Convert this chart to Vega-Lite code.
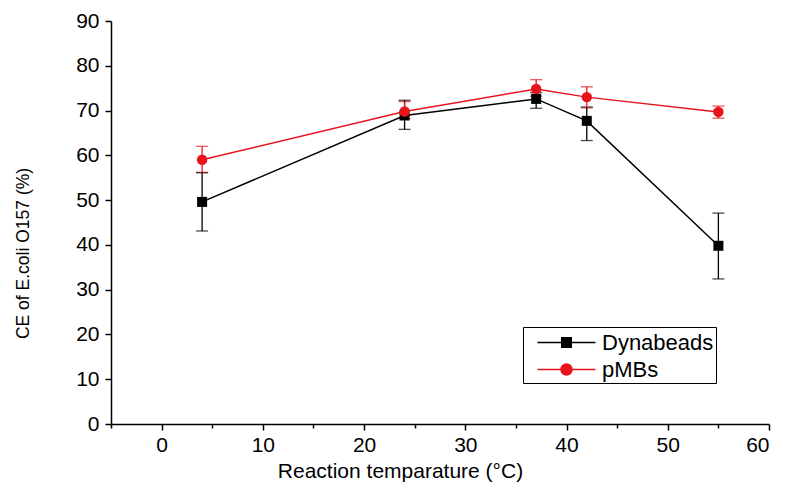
{
  "$schema": "https://vega.github.io/schema/vega-lite/v6.json",
  "width": 658,
  "height": 403,
  "autosize": {"type": "none"},
  "padding": {"left": 111, "top": 21, "right": 17, "bottom": 64},
  "background": "white",
  "config": {
    "view": {"stroke": null},
    "font": "Liberation Sans",
    "axis": {
      "grid": false,
      "domainColor": "black",
      "domainWidth": 1.5,
      "tickColor": "black",
      "tickWidth": 1.5,
      "labelColor": "black",
      "titleColor": "black",
      "labelFont": "Liberation Sans",
      "titleFont": "Liberation Sans",
      "labelFontSize": 21,
      "titleFontWeight": "normal"
    }
  },
  "data": {
    "values": [
      {"series": "Dynabeads", "temp": 4, "ce": 49.6, "lo": 43.1, "hi": 56.1},
      {"series": "Dynabeads", "temp": 24, "ce": 68.9, "lo": 65.8, "hi": 72.3},
      {"series": "Dynabeads", "temp": 37, "ce": 72.6, "lo": 70.5, "hi": 74.0},
      {"series": "Dynabeads", "temp": 42, "ce": 67.7, "lo": 63.3, "hi": 70.8},
      {"series": "Dynabeads", "temp": 55, "ce": 39.8, "lo": 32.4, "hi": 47.1},
      {"series": "pMBs", "temp": 4, "ce": 59.0, "lo": 56.2, "hi": 62.0},
      {"series": "pMBs", "temp": 24, "ce": 69.8, "lo": 68.2, "hi": 72.0},
      {"series": "pMBs", "temp": 37, "ce": 74.8, "lo": 73.2, "hi": 76.9},
      {"series": "pMBs", "temp": 42, "ce": 73.0, "lo": 70.6, "hi": 75.3},
      {"series": "pMBs", "temp": 55, "ce": 69.7, "lo": 68.3, "hi": 71.0}
    ]
  },
  "resolve": {"axis": {"x": "independent"}},
  "layer": [
    {
      "mark": {"type": "errorbar", "ticks": {"size": 12}, "thickness": 1.3},
      "encoding": {
        "x": {
          "field": "temp", "type": "quantitative",
          "scale": {"domain": [-5, 60], "nice": false, "zero": false},
          "axis": {
            "orient": "bottom",
            "values": [0, 10, 20, 30, 40, 50, 60],
            "tickSize": 6,
            "labelPadding": 4,
            "title": "Reaction temparature (°C)",
            "titleFontSize": 21,
            "titleX": 289,
            "titlePadding": 5
          }
        },
        "y": {
          "field": "lo", "type": "quantitative",
          "scale": {"domain": [0, 90], "nice": false},
          "axis": {
            "values": [0, 10, 20, 30, 40, 50, 60, 70, 80, 90],
            "tickSize": 6,
            "labelPadding": 6,
            "title": "CE of E.coli O157 (%)",
            "titleFontSize": 17.5,
            "titleY": 232,
            "titleX": -79,
            "titleBaseline": "bottom",
            "titleAngle": 270
          }
        },
        "y2": {"field": "hi"},
        "color": {"field": "series", "type": "nominal"}
      }
    },
    {
      "mark": {"type": "line", "strokeWidth": 1.5},
      "encoding": {
        "x": {
          "field": "temp", "type": "quantitative",
          "axis": {
            "orient": "bottom",
            "values": [-5, 5, 15, 25, 35, 45, 55],
            "labels": false,
            "domain": false,
            "tickSize": 4,
            "title": null
          }
        },
        "y": {"field": "ce", "type": "quantitative"},
        "color": {
          "field": "series", "type": "nominal",
          "scale": {"domain": ["Dynabeads", "pMBs"], "range": ["black", "#e8141b"]},
          "legend": {
            "orient": "none",
            "legendX": 412,
            "legendY": 306,
            "title": null,
            "strokeColor": "black",
            "padding": 2,
            "labelFontSize": 22,
            "labelColor": "black",
            "labelFont": "Liberation Sans",
            "labelExpr": "datum.label + '\u00a0\u00a0\u00a0\u00a0'",
            "symbolSize": 625,
            "symbolOffset": 28,
            "labelOffset": 22,
            "rowPadding": 2,
            "symbolStrokeWidth": 1.5,
            "symbolOpacity": 1,
            "encode": {
              "symbols": {
                "update": {
                  "shape": {"signal": "datum.value === 'Dynabeads' ? 'M-2.32,0H-0.38M0.38,0H2.32M-0.38,-0.38H0.38V0.38H-0.38Z' : 'M-2.32,0H-0.44M0.44,0H2.32M0.44,0A0.44,0.44,0,1,1,-0.44,0A0.44,0.44,0,1,1,0.44,0Z'"},
                  "fill": {"signal": "datum.value === 'Dynabeads' ? 'black' : '#e8141b'"},
                  "stroke": {"signal": "datum.value === 'Dynabeads' ? 'black' : '#e8141b'"}
                }
              }
            }
          }
        }
      }
    },
    {
      "transform": [{"filter": "datum.series === 'Dynabeads'"}],
      "mark": {"type": "point", "shape": "square", "filled": true, "opacity": 1, "size": 100},
      "encoding": {
        "x": {"field": "temp", "type": "quantitative", "axis": null},
        "y": {"field": "ce", "type": "quantitative"},
        "color": {"field": "series", "type": "nominal"}
      }
    },
    {
      "transform": [{"filter": "datum.series === 'pMBs'"}],
      "mark": {"type": "point", "shape": "circle", "filled": true, "opacity": 1, "size": 110},
      "encoding": {
        "x": {"field": "temp", "type": "quantitative", "axis": null},
        "y": {"field": "ce", "type": "quantitative"},
        "color": {"field": "series", "type": "nominal"}
      }
    }
  ]
}
